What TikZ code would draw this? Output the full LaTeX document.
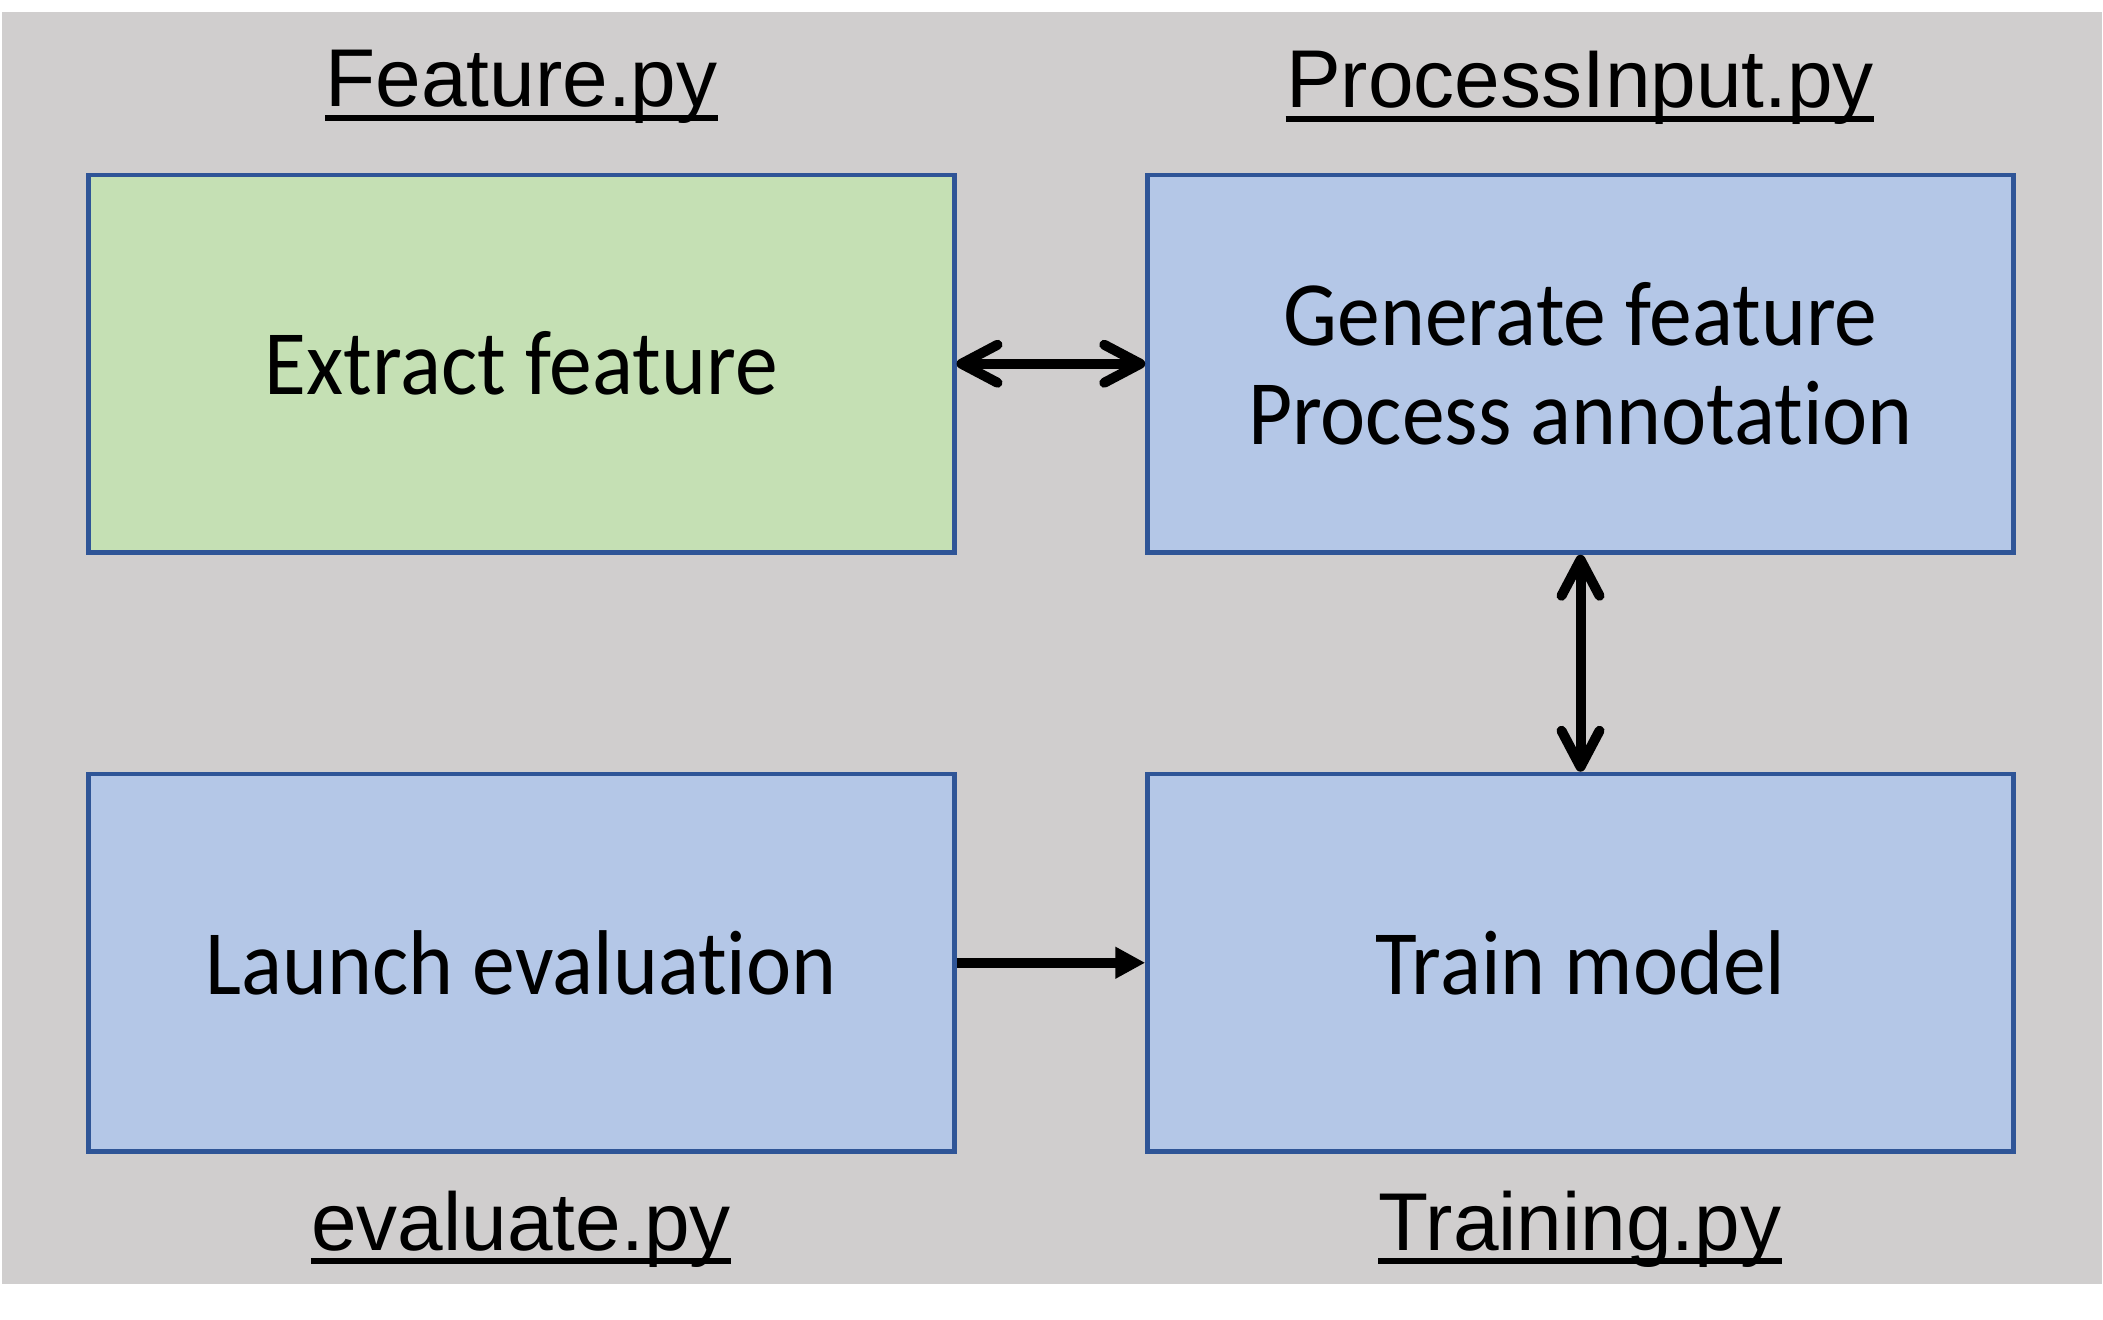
\documentclass[tikz,border=0pt]{standalone}
\usepackage{fontspec}
\setmainfont{Liberation Sans}
\newfontfamily\boxfont[FakeStretch=0.93,Ligatures=NoCommon]{Carlito}
\usetikzlibrary{arrows.meta}
\definecolor{bgc}{RGB}{208,206,206}
\definecolor{bluefill}{RGB}{180,199,231}
\definecolor{greenfill}{RGB}{197,224,180}
\definecolor{edgec}{RGB}{47,85,151}
\begin{document}
\begin{tikzpicture}[x=0.5pt,y=-0.5pt,
  box/.style={draw=edgec, line width=2.25pt, minimum width=433pt, minimum height=188.75pt,
    inner sep=0pt, font=\boxfont\fontsize{46}{49.5}\selectfont, align=center},
  lab/.style={font=\fontsize{41}{49}\selectfont, inner sep=0pt, anchor=base},
  uline/.style={line width=3pt},
  dblarrow/.style={line width=5pt, {Straight Barb[round,length=18pt,width=19pt]}-{Straight Barb[round,length=18pt,width=19pt]}},
  onearrow/.style={line width=5pt, -{Triangle[length=15pt,width=15pt]}}]
\useasboundingbox (0,0) rectangle (2103,1320);
\fill[bgc] (2,12) rectangle (2102,1284);

\node[box, fill=greenfill] (extract) at (521.25,363.75) {Extract feature};
\node[box, fill=bluefill] (generate) at (1580.5,363.75) {Generate feature\\Process annotation};
\node[box, fill=bluefill] (launch) at (521.25,962.75) {Launch evaluation};
\node[box, fill=bluefill] (train) at (1580.5,962.75) {Train model};

\node[lab] (lfeat) at (521.5,107) {Feature.py};
\node[lab] (lproc) at (1580,108) {ProcessInput.py};
\node[lab] (leval) at (521,1250) {evaluate.py};
\node[lab] (ltrain) at (1580,1250) {Training.py};
\foreach \n in {lfeat,lproc,leval,ltrain}
  \draw[uline] ([yshift=-5.5pt]\n.base west) -- ([yshift=-5.5pt]\n.base east);

\draw[dblarrow] (extract.east) -- (generate.west);
\draw[dblarrow] (generate.south) -- (train.north);
\draw[onearrow] (launch.east) -- (train.west);
\end{tikzpicture}
\end{document}
